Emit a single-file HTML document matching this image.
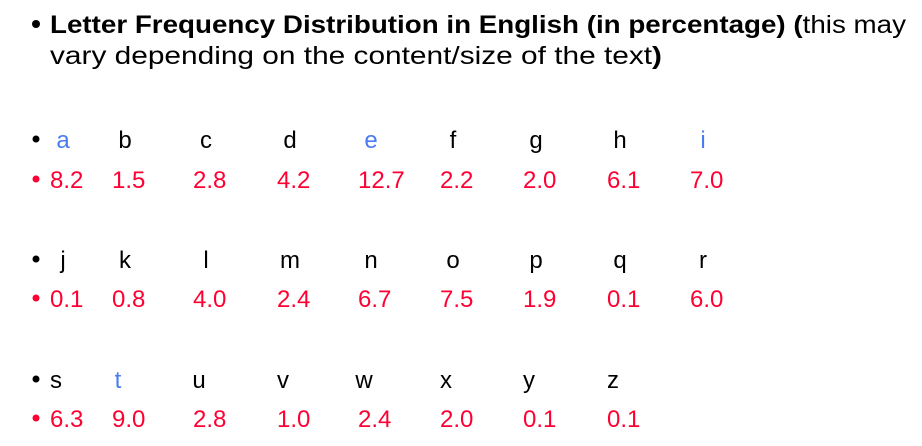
<!DOCTYPE html>
<html><head><meta charset="utf-8">
<style>
html,body{margin:0;padding:0;background:#fff;}
svg{display:block;font-family:"Liberation Sans",sans-serif;}
</style></head>
<body>
<svg id="s" width="922" height="446" viewBox="0 0 922 446" xmlns="http://www.w3.org/2000/svg">
  <circle cx="36" cy="24" r="4" fill="#000"/>
  <text x="50" y="33" font-size="25" fill="#000" textLength="856" lengthAdjust="spacingAndGlyphs"><tspan font-weight="bold">Letter Frequency Distribution in English (in percentage) (</tspan>this may</text>
  <text x="50" y="64" font-size="25" fill="#000" textLength="612" lengthAdjust="spacingAndGlyphs">vary depending on the content/size of the text<tspan font-weight="bold">)</tspan></text>
  <g id="rows"></g>
</svg>
<script>
const letters1 = ["a","b","c","d","e","f","g","h","i"];
const values1 = ["8.2","1.5","2.8","4.2","12.7","2.2","2.0","6.1","7.0"];
const letters2 = ["j","k","l","m","n","o","p","q","r"];
const values2 = ["0.1","0.8","4.0","2.4","6.7","7.5","1.9","0.1","6.0"];
const letters3 = ["s","t","u","v","w","x","y","z"];
const values3 = ["6.3","9.0","2.8","1.0","2.4","2.0","0.1","0.1"];
const blueLetters = ["a","e","i","t"];

const NS = "http://www.w3.org/2000/svg";
const g = document.getElementById("rows");
const colX = [50,112,193,277,358,440,523,607,690];
const rows = [
  {l: letters1, v: values1, ly: 148, vy: 188, off: 13},
  {l: letters2, v: values2, ly: 268, vy: 307, off: 13},
  {l: letters3, v: values3, ly: 388, vy: 427, off: 6}
];
function txt(x, y, s, fill, anchor){
  const t = document.createElementNS(NS, "text");
  t.setAttribute("x", x); t.setAttribute("y", y);
  t.setAttribute("font-size", "24");
  t.setAttribute("fill", fill);
  if (anchor) t.setAttribute("text-anchor", anchor);
  t.textContent = s;
  g.appendChild(t);
  return t;
}
function bullet(y, fill){
  const c = document.createElementNS(NS, "circle");
  c.setAttribute("cx", 36); c.setAttribute("cy", y); c.setAttribute("r", 3.5);
  c.setAttribute("fill", fill);
  g.appendChild(c);
  return c;
}
rows.forEach((r, ri) => {
  const b1 = bullet(r.ly - 9, "#000");
  
  
  const b2 = bullet(r.vy - 9, "#ff0033");
  
  
  r.l.forEach((ch, i) => {
    const cx = colX[i] + r.off;
    const color = blueLetters.includes(ch) ? "#4a7cf0" : "#000";
    const t = txt(cx, r.ly, ch, color, "middle");
    
    
    const v = txt(colX[i], r.vy, r.v[i], "#ff0033");
    
    
  });
});
</script>
</body></html>
